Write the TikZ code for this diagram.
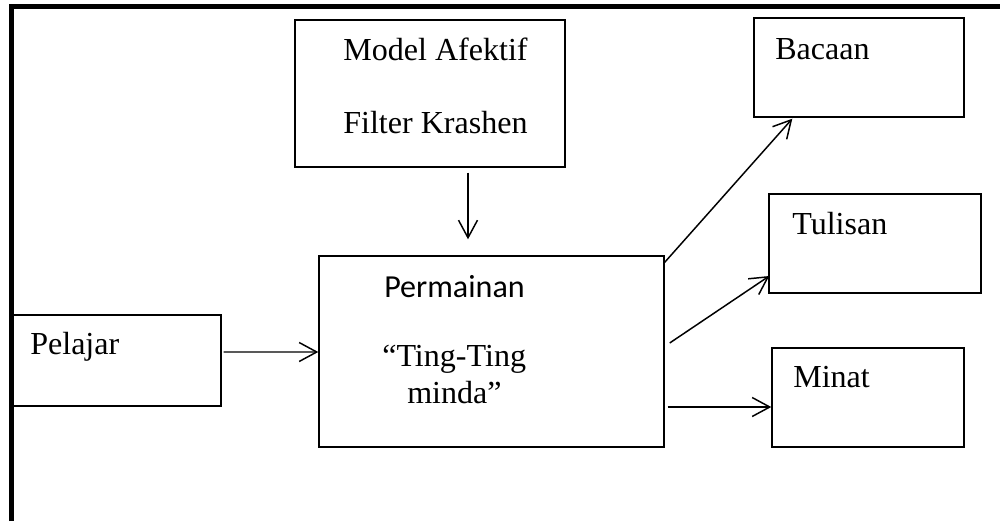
\documentclass[tikz,border=0pt]{standalone}
\usepackage{fontspec}
\setmainfont{Liberation Serif}
\newfontfamily\calibri{Carlito}
\usetikzlibrary{arrows.meta,calc}

\tikzset{
  box/.style={draw, line width=1pt, rectangle, inner sep=0pt},
  lbl/.style={anchor=base west, inner sep=0pt, font=\fontsize{22.8}{27}\selectfont},
  arr/.style={line width=1.05pt, -{Straight Barb[length=12.5pt,width=13.5pt,line width=1.05pt]}},
  frame/.style={line width=3.6pt}
}

\begin{document}
\begin{tikzpicture}[x=0.025cm, y=-0.025cm]
  \useasboundingbox (0,0) rectangle (1000,521);

  % heavy frame along the top and left edges
  \draw[frame] (11.5,521) -- (11.5,6.5) -- (1000,6.5);

  % boxes
  \node[box, minimum width=270*0.025cm, minimum height=147*0.025cm] (model) at (430,93.5) {};
  \node[box, minimum width=345*0.025cm, minimum height=191*0.025cm] (perm) at (491.5,351.5) {};
  \node[box, minimum width=210*0.025cm, minimum height=91*0.025cm] (pel) at (116,360.5) {};
  \node[box, minimum width=210*0.025cm, minimum height=99*0.025cm] (bac) at (859,67.5) {};
  \node[box, minimum width=212*0.025cm, minimum height=99*0.025cm] (tul) at (875,243.5) {};
  \node[box, minimum width=192*0.025cm, minimum height=99*0.025cm] (min) at (868,397.5) {};

  % box texts
  \node[lbl] (tModelA) at (343,60) {Model Afektif};
  \node[lbl] (tModelB) at (343,133) {Filter Krashen};
  \node[lbl] (tBac) at (775,59) {Bacaan};
  \node[lbl] (tTul) at (792,234) {Tulisan};
  \node[lbl] (tMin) at (793,387) {Minat};
  \node[lbl] (tPel) at (30,354) {Pelajar};
  \node[lbl, font=\calibri\fontsize{22.8}{27}\selectfont] (tPermA) at (384,297) {Permainan};
  \node[lbl] (tPermB) at (382,366) {“Ting-Ting};
  \node[lbl] (tPermC) at (407,403) {minda”};

  % connectors
  \draw[arr] ($(model.south)+(38,5)$) -- ($(perm.north)+(-23.5,-16)$);
  \draw[arr] ($(pel.east)+(2,-8.5)$) -- ($(perm.west)+(0,0.5)$);
  \draw[arr] ($(perm.north east)+(0,7)$) -- ($(bac.south west)+(39,1)$);
  \draw[arr] ($(perm.east)+(5,-8.5)$) -- ($(tul.west)+(1,32.5)$);
  \draw[arr] ($(perm.east)+(3,55.5)$) -- ($(min.west)+(0,9.5)$);
\end{tikzpicture}
\end{document}
